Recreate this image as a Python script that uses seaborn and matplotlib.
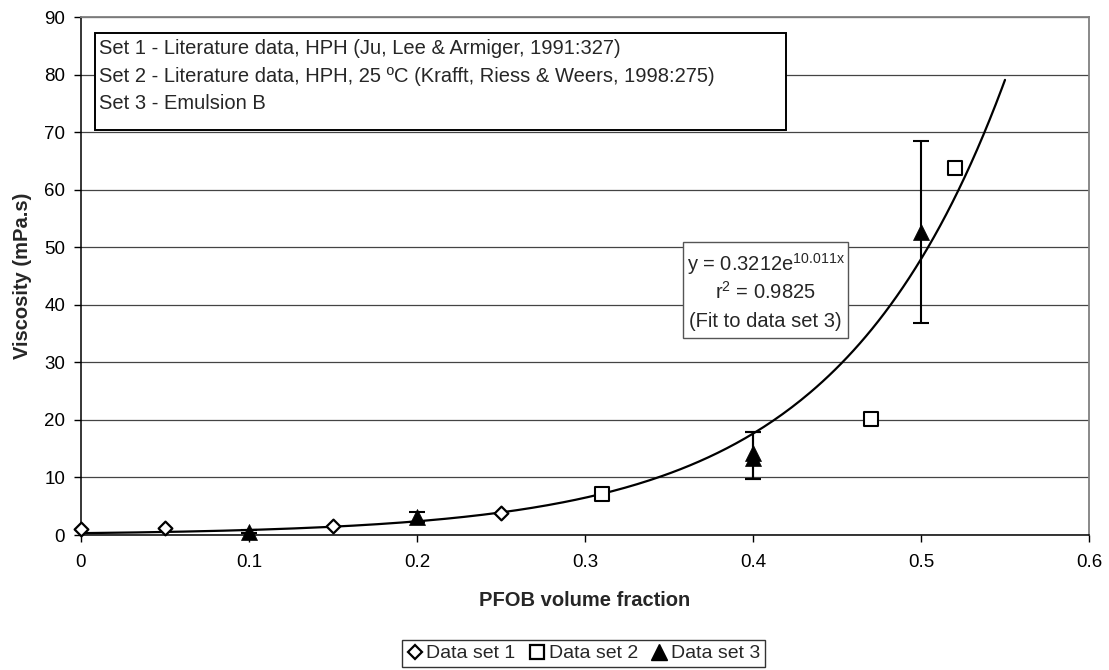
import numpy as np
import pandas as pd
import matplotlib
matplotlib.use("Agg")
import matplotlib.pyplot as plt
from matplotlib.patches import Rectangle
from matplotlib.lines import Line2D
import seaborn as sns

# Data set 1 - Ju, Lee & Armiger (1991)
set1_x = [0.0, 0.05, 0.15, 0.25]
set1_y = [1.0, 1.3, 1.6, 3.9]

# Data set 2 - Krafft, Riess & Weers (1998), 25 °C
set2_x = [0.31, 0.47, 0.52]
set2_y = [7.1, 20.2, 63.8]

# Data set 3 - Emulsion B, with lower / upper deviations
set3_x = [0.1, 0.2, 0.4, 0.4, 0.5]
set3_y = [0.6, 3.1, 14.3, 13.4, 52.6]
set3_err_low = [0.2, 0.9, 4.6, 3.7, 15.8]
set3_err_high = [0.2, 0.9, 3.6, 4.5, 15.8]

# Exponential fit to data set 3
fit_a = 0.3212
fit_b = 10.011
fit_r2 = 0.9825
fit_xmax = 0.55

x_ticks = [0, 0.1, 0.2, 0.3, 0.4, 0.5, 0.6]
y_ticks = [0, 10, 20, 30, 40, 50, 60, 70, 80, 90]

sns.set_theme(style="white")
plt.rcParams["font.family"] = ["Liberation Sans", "DejaVu Sans"]
plt.rcParams["mathtext.fontset"] = "custom"
plt.rcParams["mathtext.rm"] = "Liberation Sans"

FS = 14.5

W, H = 1109, 670
fig = plt.figure(figsize=(W / 100, H / 100), dpi=100)
L, R, T, B = 81, 1089, 17, 535
ax = fig.add_axes([L / W, 1 - B / H, (R - L) / W, (B - T) / H])

# Trend line
fit_x = np.linspace(0, fit_xmax, 300)
fit_df = pd.DataFrame({"x": fit_x, "y": fit_a * np.exp(fit_b * fit_x)})
sns.lineplot(data=fit_df, x="x", y="y", ax=ax, color="black", linewidth=1.6, zorder=3)

# Error bars for data set 3
ax.errorbar(set3_x, set3_y, yerr=[set3_err_low, set3_err_high], fmt="none",
            ecolor="black", elinewidth=1.5, capsize=5.5, capthick=1.5, zorder=4)

df1 = pd.DataFrame({"x": set1_x, "y": set1_y})
df2 = pd.DataFrame({"x": set2_x, "y": set2_y})
df3 = pd.DataFrame({"x": set3_x, "y": set3_y})
sns.scatterplot(data=df1, x="x", y="y", ax=ax, marker="D", s=7.0 ** 2,
                facecolor="white", edgecolor="black", linewidth=1.6, zorder=5, clip_on=False)
sns.scatterplot(data=df2, x="x", y="y", ax=ax, marker="s", s=9.8 ** 2,
                facecolor="white", edgecolor="black", linewidth=1.5, zorder=5, clip_on=False)
sns.scatterplot(data=df3, x="x", y="y", ax=ax, marker="^", s=11.5 ** 2,
                color="black", edgecolor="black", linewidth=0.5, zorder=5, clip_on=False)

ax.set_xlim(0, 0.6)
ax.set_ylim(0, 90)
ax.set_xticks(x_ticks)
ax.set_xticklabels([f"{t:g}" for t in x_ticks])
ax.set_yticks(y_ticks)
ax.set_yticklabels([str(t) for t in y_ticks])
ax.grid(axis="y", color="#444444", linewidth=0.9)
ax.grid(axis="x", visible=False)
ax.set_axisbelow(True)

for side in ["left", "bottom"]:
    ax.spines[side].set_color("black")
    ax.spines[side].set_linewidth(1.1)
for side in ["top", "right"]:
    ax.spines[side].set_color("#808080")
    ax.spines[side].set_linewidth(1.3)
ax.tick_params(axis="both", which="major", direction="out", length=5, width=1,
               color="black", labelsize=13.5, labelcolor="black", bottom=True, left=True)
ax.tick_params(axis="y", pad=6.5)
ax.tick_params(axis="x", pad=9)

ax.set_xlabel("PFOB volume fraction", fontsize=FS, fontweight="bold", labelpad=14)
ax.set_ylabel("Viscosity (mPa.s)", fontsize=FS, fontweight="bold", labelpad=9)


def px_to_ax(px, py):
    return (px - L) / (R - L), (B - py) / (B - T)


# Description box for the data sets
x0, y0 = px_to_ax(95, 130)
x1, y1 = px_to_ax(786, 33)
ax.add_patch(Rectangle((x0, y0), x1 - x0, y1 - y0, transform=ax.transAxes,
                       facecolor="white", edgecolor="black", linewidth=1.4, zorder=6))
desc_lines = [
    "Set 1 - Literature data, HPH (Ju, Lee & Armiger, 1991:327)",
    "Set 2 - Literature data, HPH, 25 ºC (Krafft, Riess & Weers, 1998:275)",
    "Set 3 - Emulsion B",
]
for i, line in enumerate(desc_lines):
    tx, ty = px_to_ax(99, 54 + 27.5 * i)
    ax.text(tx, ty, line, transform=ax.transAxes, fontsize=FS, va="baseline",
            ha="left", zorder=7)

# Fit equation box
fx0, fy0 = px_to_ax(683, 338)
fx1, fy1 = px_to_ax(848, 242)
ax.add_patch(Rectangle((fx0, fy0), fx1 - fx0, fy1 - fy0, transform=ax.transAxes,
                       facecolor="white", edgecolor="#555555", linewidth=1.0, zorder=6))
fit_lines = [
    rf"y = {fit_a}e$^{{\mathrm{{{fit_b}x}}}}$",
    rf"r$^{{\mathrm{{2}}}}$ = {fit_r2}",
    "(Fit to data set 3)",
]
for i, line in enumerate(fit_lines):
    tx, ty = px_to_ax(765.5, 271 + 28 * i)
    ax.text(tx, ty, line, transform=ax.transAxes, fontsize=FS, va="baseline",
            ha="center", zorder=7)

# Legend below the axes
handles = [
    Line2D([], [], linestyle="none", marker="D", markersize=7, markerfacecolor="white",
           markeredgecolor="black", markeredgewidth=1.6),
    Line2D([], [], linestyle="none", marker="s", markersize=9.5, markerfacecolor="white",
           markeredgecolor="black", markeredgewidth=1.6),
    Line2D([], [], linestyle="none", marker="^", markersize=11, markerfacecolor="black",
           markeredgecolor="black"),
]
leg = fig.legend(handles, ["Data set 1", "Data set 2", "Data set 3"], ncol=3,
                 loc="upper left", bbox_to_anchor=(402 / W, 1 - 640 / H), fontsize=14,
                 frameon=True, fancybox=False, edgecolor="black", handlelength=0.8,
                 handletextpad=0.2, columnspacing=0.7, borderpad=0.25, borderaxespad=0)
leg.get_frame().set_linewidth(1.0)

fig.savefig("out.png", dpi=100, facecolor="white")
